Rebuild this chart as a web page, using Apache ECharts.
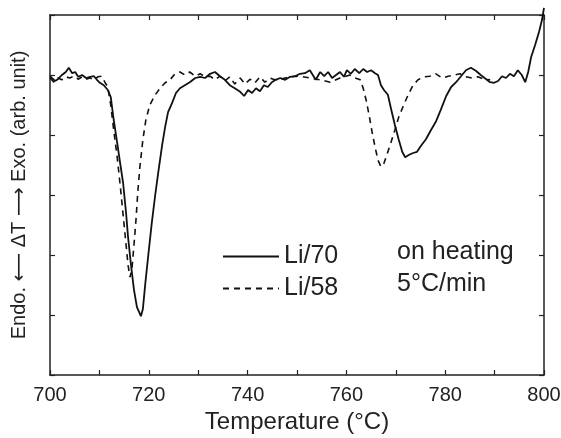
<!DOCTYPE html>
<html><head><meta charset="utf-8">
<script src="https://cdn.jsdelivr.net/npm/echarts@6/dist/echarts.min.js"></script>
<style>html,body{margin:0;padding:0;background:#fff}#c{width:561px;height:438px}</style>
</head><body><div id="c"></div>
<script>
const xTicks = [700, 720, 740, 760, 780, 800];
const seriesNames = ['Li/70', 'Li/58'];
const noteLines = ['on heating', '5\u00B0C/min'];
const li70 = [[700.0,4.98],[700.4,4.95],[701.0,4.90],[701.6,4.93],[702.4,5.00],[703.2,5.05],[703.8,5.12],[704.5,5.03],[705.1,5.05],[705.7,4.97],[706.5,5.00],[707.3,4.95],[708.1,4.97],[708.9,4.98],[709.5,4.92],[710.1,4.87],[710.9,4.83],[711.7,4.75],[712.3,4.63],[712.9,4.25],[713.6,3.87],[714.2,3.53],[714.8,3.20],[715.4,2.70],[715.8,2.30],[716.4,1.83],[717.0,1.42],[717.6,1.13],[718.4,0.98],[718.8,1.10],[719.3,1.53],[719.9,2.00],[720.6,2.53],[721.3,3.00],[721.9,3.37],[722.7,3.83],[723.3,4.13],[723.9,4.38],[724.7,4.53],[725.5,4.70],[726.3,4.78],[727.3,4.83],[728.3,4.88],[729.4,4.95],[730.4,4.97],[731.4,4.95],[732.4,5.02],[733.4,5.05],[734.4,4.98],[735.4,4.92],[736.4,4.83],[737.4,4.78],[738.5,4.72],[739.3,4.65],[740.1,4.75],[740.9,4.70],[741.7,4.78],[742.5,4.73],[743.3,4.83],[744.1,4.80],[744.9,4.88],[745.7,4.92],[746.6,4.95],[747.6,4.92],[748.6,4.97],[749.6,4.98],[750.6,5.02],[751.6,5.03],[752.6,5.08],[753.2,5.00],[753.8,4.92],[754.7,5.05],[755.5,4.98],[756.3,5.05],[757.1,4.95],[757.9,5.00],[758.7,5.05],[759.5,4.97],[760.1,5.08],[760.9,5.02],[761.7,5.10],[762.6,5.03],[763.4,5.10],[764.2,5.05],[765.0,5.08],[765.8,5.03],[766.4,5.00],[767.0,4.83],[767.6,4.75],[768.4,4.67],[769.0,4.45],[769.8,4.17],[770.6,3.92],[771.3,3.72],[771.9,3.63],[772.7,3.67],[773.5,3.70],[774.3,3.72],[775.1,3.82],[776.1,3.93],[777.1,4.08],[778.1,4.22],[779.1,4.42],[780.2,4.65],[781.2,4.80],[782.2,4.88],[783.2,4.98],[784.2,5.08],[785.2,5.12],[786.2,5.07],[787.2,5.00],[788.3,4.93],[789.1,4.88],[789.9,4.87],[790.7,4.90],[791.5,4.98],[792.3,4.95],[793.1,5.02],[793.9,4.98],[794.7,5.08],[795.5,5.00],[796.2,4.88],[796.8,5.05],[797.4,5.30],[798.2,5.50],[799.0,5.72],[799.6,5.92],[800.0,6.12]];
const li58 = [[700.0,4.95],[700.8,4.88],[701.6,4.95],[702.4,4.92],[703.2,4.97],[704.0,4.95],[704.9,4.98],[705.7,4.93],[706.5,4.97],[707.3,4.93],[708.1,4.95],[708.9,4.92],[709.7,4.97],[710.5,4.98],[711.1,4.88],[711.7,4.80],[712.3,4.50],[712.9,4.08],[713.6,3.63],[714.2,3.17],[714.8,2.67],[715.4,2.17],[715.8,1.83],[716.2,1.63],[716.6,1.78],[717.0,2.17],[717.4,2.58],[717.8,3.08],[718.2,3.47],[718.8,3.92],[719.4,4.25],[720.2,4.50],[721.3,4.67],[722.3,4.78],[723.3,4.87],[724.3,4.92],[725.3,5.02],[726.3,5.05],[727.3,5.00],[728.3,5.05],[729.4,4.98],[730.4,5.02],[731.4,4.97],[732.4,4.98],[733.4,4.92],[734.4,4.98],[735.4,4.90],[736.4,4.97],[737.4,4.85],[738.5,4.95],[739.5,4.85],[740.5,4.93],[741.5,4.87],[742.5,4.97],[743.5,4.88],[744.5,4.95],[745.5,4.92],[746.6,4.93],[748.6,4.97],[750.6,4.98],[752.6,4.95],[754.7,4.92],[756.7,4.88],[758.7,4.95],[760.7,5.00],[761.7,4.95],[762.8,4.92],[763.4,4.78],[764.0,4.58],[764.6,4.33],[765.2,4.05],[765.8,3.80],[766.4,3.58],[767.0,3.47],[767.6,3.53],[768.2,3.67],[769.0,3.87],[769.8,4.08],[770.6,4.30],[771.5,4.48],[772.5,4.67],[773.5,4.83],[774.5,4.92],[775.7,4.97],[776.9,4.98],[778.1,5.02],[779.4,4.95],[780.6,4.98],[781.8,5.00],[783.0,5.02],[784.2,4.97],[785.4,4.95],[786.6,4.97],[787.9,4.93],[789.1,4.92]];

const FONT = '"Liberation Sans", Arial, "DejaVu Sans", sans-serif';
const AX = '#222';
const chart = echarts.init(document.getElementById('c'), null, {renderer: 'canvas'});
const xBase = {
  type: 'value', min: 700, max: 800, interval: 10,
  axisLine: {show: true, onZero: false, lineStyle: {color: AX, width: 1.5}},
  axisTick: {show: true, inside: true, length: 5, lineStyle: {color: AX, width: 1.2}},
  splitLine: {show: false}
};
const yBase = {
  type: 'value', min: 0, max: 6, interval: 1,
  axisLine: {show: true, onZero: false, lineStyle: {color: AX, width: 1.5}},
  axisTick: {show: true, inside: true, length: 5, lineStyle: {color: AX, width: 1.2}},
  axisLabel: {show: false},
  splitLine: {show: false}
};
chart.setOption({
  animation: false,
  backgroundColor: '#fff',
  grid: {left: 50, right: 17, top: 15, bottom: 63, containLabel: false, outerBoundsMode: 'none'},
  xAxis: [
    Object.assign({}, xBase, {
      position: 'bottom',
      name: 'Temperature (\u00B0C)', nameLocation: 'middle', nameGap: 34,
      nameTextStyle: {fontFamily: FONT, fontSize: 24, color: '#222'},
      axisLabel: {show: true, margin: 10, fontFamily: FONT, fontSize: 20, color: '#222',
        formatter: v => xTicks.indexOf(v) >= 0 ? String(v) : ''}
    }),
    Object.assign({}, xBase, {position: 'top', axisLabel: {show: false}})
  ],
  yAxis: [
    Object.assign({}, yBase, {
      position: 'left',
      name: 'Endo. \u27F5 \u0394T \u27F6 Exo. (arb. unit)', nameLocation: 'middle', nameGap: 21, nameRotate: 90,
      nameTextStyle: {fontFamily: FONT, fontSize: 20, color: '#222'}
    }),
    Object.assign({}, yBase, {position: 'right'})
  ],
  legend: {
    orient: 'vertical', left: 217, top: 239,
    itemWidth: 56, itemHeight: 14, itemGap: 7,
    itemStyle: {color: 'rgba(0,0,0,0)', borderWidth: 0, opacity: 0},
    textStyle: {fontFamily: FONT, fontSize: 25, color: '#222', lineHeight: 25},
    data: seriesNames.map(n => ({name: n}))
  },
  series: [
    {name: seriesNames[0], type: 'line', data: li70, showSymbol: false, symbol: 'none', clip: false,
     lineStyle: {color: '#111', width: 1.8, type: 'solid'}, itemStyle: {color: '#111'}},
    {name: seriesNames[1], type: 'line', data: li58, showSymbol: false, symbol: 'none', clip: false,
     lineStyle: {color: '#111', width: 1.6, type: [6, 5]}, itemStyle: {color: '#111'}}
  ],
  graphic: noteLines.map((t, i) => ({
    type: 'text', left: 397, top: 240 + i * 32,
    style: {text: t, font: '25px ' + FONT, fill: '#222'}
  }))
});
</script></body></html>
